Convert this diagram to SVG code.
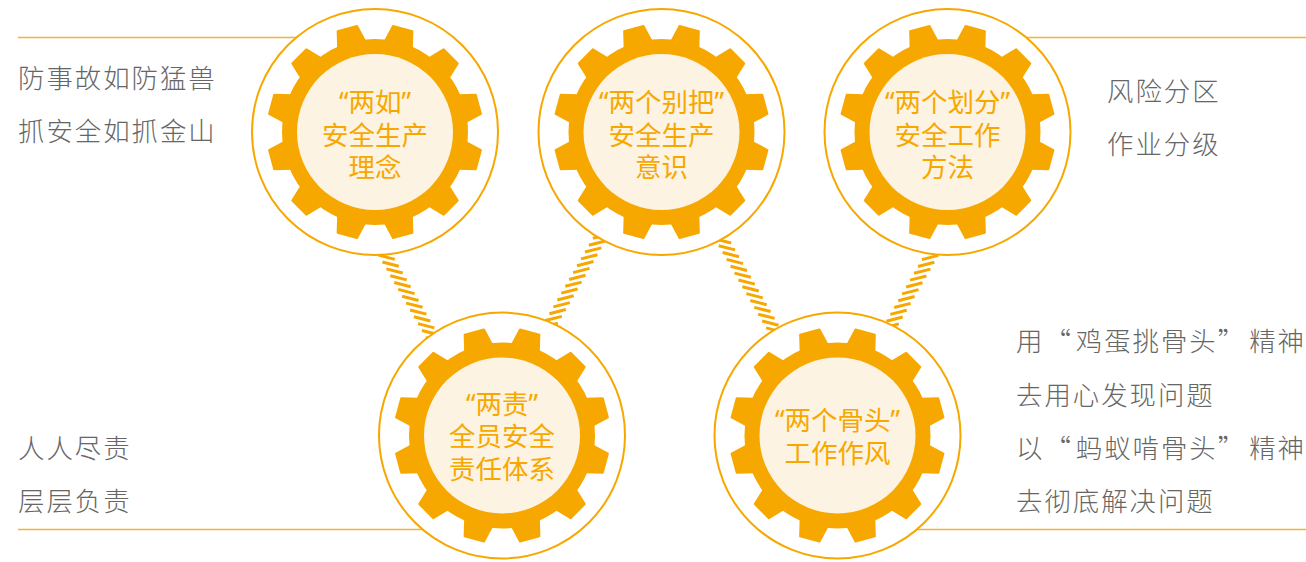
<svg xmlns="http://www.w3.org/2000/svg" width="1306" height="562" viewBox="0 0 1306 562">
<style>
.ring{fill:#fff;stroke:#f7a800;stroke-width:2}
.hub{fill:#fdf3e3}
.body{fill:#f7a800}
.tooth{fill:#f7a800;stroke:#f7a800;stroke-width:2;stroke-linejoin:round}
.rule{stroke:#f5b335;stroke-width:1.5;fill:none}
.hatch{stroke:#f7a800;stroke-width:3;fill:none}
text{font-family:"Noto Sans","Noto Sans CJK SC",sans-serif}
.lab{fill:#f7a800;font-size:26.500px;text-anchor:middle}
.note{fill:#666;font-size:26.400px;font-family:"Noto Sans CJK SC",sans-serif;letter-spacing:2px;font-weight:300}
</style>
<defs>
<path id="t" class="tooth" d="M-14 -90L-10 -107H10L14 -90Z"/>
<g id="gear">
<circle class="ring" r="123"/>
<circle class="body" r="93"/>
<use href="#t" transform="rotate(15)"/><use href="#t" transform="rotate(45)"/><use href="#t" transform="rotate(75)"/><use href="#t" transform="rotate(105)"/><use href="#t" transform="rotate(135)"/><use href="#t" transform="rotate(165)"/><use href="#t" transform="rotate(195)"/><use href="#t" transform="rotate(225)"/><use href="#t" transform="rotate(255)"/><use href="#t" transform="rotate(285)"/><use href="#t" transform="rotate(315)"/><use href="#t" transform="rotate(345)"/>
<circle class="hub" r="78"/>
</g>
<path id="hl" class="hatch" d="M0 0l16.400 4.200m-12.450 2.650l16.400 4.200m-12.450 2.650l16.400 4.200m-12.450 2.650l16.400 4.200m-12.450 2.650l16.400 4.200m-12.450 2.650l16.400 4.200m-12.450 2.650l16.400 4.200m-12.450 2.650l16.400 4.200m-12.450 2.650l16.400 4.200m-12.450 2.650l16.400 4.200m-12.450 2.650l16.400 4.200m-12.450 2.650l16.400 4.200m-12.450 2.650l16.400 4.200m-12.450 2.650l16.400 4.200m-12.450 2.650l16.400 4.200m-12.450 2.650l16.400 4.200"/>
<path id="hr" class="hatch" d="M0 0l-16.400 4.200m12.450 2.650l-16.400 4.200m12.450 2.650l-16.400 4.200m12.450 2.650l-16.400 4.200m12.450 2.650l-16.400 4.200m12.450 2.650l-16.400 4.200m12.450 2.650l-16.400 4.200m12.450 2.650l-16.400 4.200m12.450 2.650l-16.400 4.200m12.450 2.650l-16.400 4.200m12.450 2.650l-16.400 4.200m12.450 2.650l-16.400 4.200m12.450 2.650l-16.400 4.200m12.450 2.650l-16.400 4.200m12.450 2.650l-16.400 4.200m12.450 2.650l-16.400 4.200"/>
</defs>
<g id="connectors">
<path class="rule" d="M18 37.500H300M1025 37.500H1306M18 529.500H425M910 529.500H1306"/>
<use href="#hl" x="374.500" y="248.300"/>
<use href="#hl" x="710.800" y="232"/>
<use href="#hr" x="613.200" y="227.300"/>
<use href="#hr" x="946.200" y="241.700"/>
</g>
<g id="node-liangru">
<use href="#gear" x="375" y="132"/>
<text class="lab" x="375" y="112">“两如”</text>
<text class="lab" x="375" y="145">安全生产</text>
<text class="lab" x="375" y="177">理念</text>
</g>
<g id="node-lianggebiba">
<use href="#gear" x="661.500" y="132"/>
<text class="lab" x="661.500" y="112">“两个别把”</text>
<text class="lab" x="661.500" y="145">安全生产</text>
<text class="lab" x="661.500" y="177">意识</text>
</g>
<g id="node-lianggehuafen">
<use href="#gear" x="947.500" y="132"/>
<text class="lab" x="947.500" y="112">“两个划分”</text>
<text class="lab" x="947.500" y="145">安全工作</text>
<text class="lab" x="947.500" y="177">方法</text>
</g>
<g id="node-liangze">
<use href="#gear" x="502" y="435.500"/>
<text class="lab" x="502" y="414">“两责”</text>
<text class="lab" x="502" y="446">全员安全</text>
<text class="lab" x="502" y="479">责任体系</text>
</g>
<g id="node-lianggegutou">
<use href="#gear" x="837.500" y="435.500"/>
<text class="lab" x="837.500" y="430">“两个骨头”</text>
<text class="lab" x="837.500" y="463">工作作风</text>
</g>
<g id="notes">
<text class="note" x="18" y="88">防事故如防猛兽</text>
<text class="note" x="18" y="141">抓安全如抓金山</text>
<text class="note" x="1107" y="101">风险分区</text>
<text class="note" x="1107" y="154">作业分级</text>
<text class="note" x="18" y="458">人人尽责</text>
<text class="note" x="18" y="511">层层负责</text>
<text class="note" x="1016" y="351">用“<tspan dx="3">鸡蛋挑骨头</tspan>”<tspan dx="3">精神</tspan></text>
<text class="note" x="1016" y="405">去用心发现问题</text>
<text class="note" x="1016" y="458">以“<tspan dx="3">蚂蚁啃骨头</tspan>”<tspan dx="3">精神</tspan></text>
<text class="note" x="1016" y="511">去彻底解决问题</text>
</g>
</svg>
